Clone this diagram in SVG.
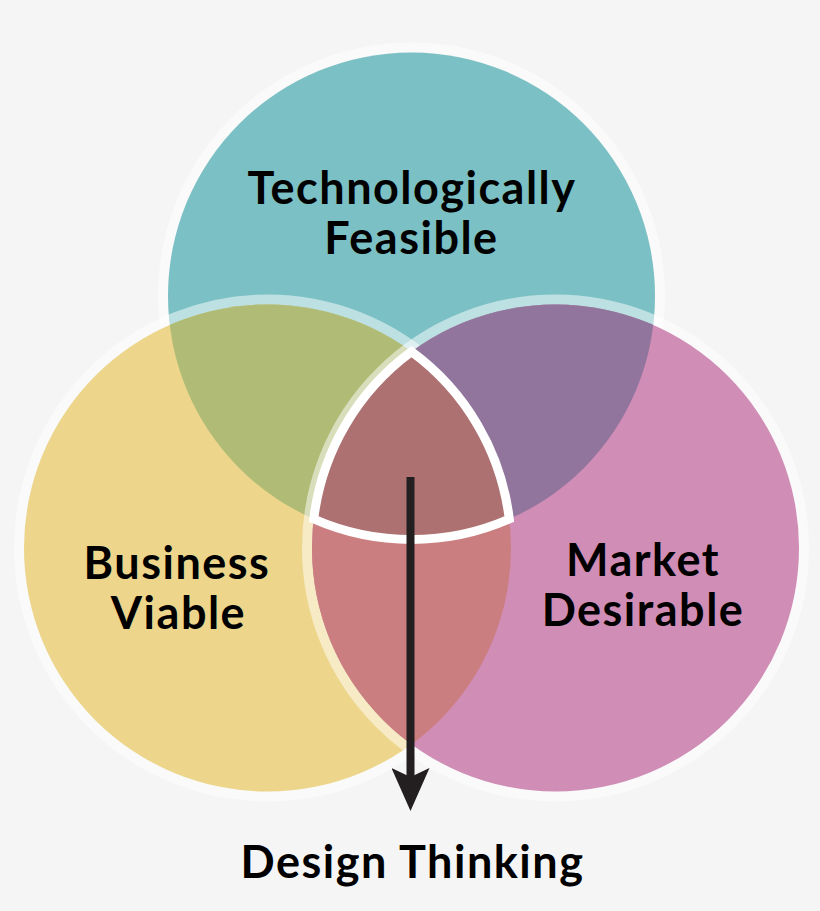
<svg xmlns="http://www.w3.org/2000/svg" width="820" height="911" viewBox="0 0 820 911">
  <defs>
    <style>
      .halo { fill: none; stroke: #ffffff; stroke-opacity: 0.5; stroke-width: 10; }
      .label { font-family: "Lato", "Liberation Sans", sans-serif; font-weight: 700; font-size: 45px; letter-spacing: 1.5px; fill: #000000; text-anchor: middle; }
    </style>
    <clipPath id="clipTeal"><circle cx="411.5" cy="296" r="243.5"/></clipPath>
    <clipPath id="clipYellow"><circle cx="267.5" cy="548" r="243.5"/></clipPath>
    <marker id="arrowhead" markerUnits="userSpaceOnUse" viewBox="0 0 44 38" markerWidth="44" markerHeight="38" refX="12" refY="19" orient="auto">
      <path d="M0,0 L43,19 L0,38 L9,19 Z" fill="#231f20"/>
    </marker>
  </defs>

  <rect x="0" y="0" width="820" height="911" fill="#f5f5f5"/>

  <g id="technologically-feasible">
    <circle class="halo" cx="411.5" cy="296" r="248.5"/>
    <circle cx="411.5" cy="296" r="243.5" fill="#7bc0c4"/>
  </g>

  <g id="business-viable">
    <circle class="halo" cx="267.5" cy="548" r="248.5"/>
    <circle cx="267.5" cy="548" r="243.5" fill="#edd68b"/>
    <circle cx="411.5" cy="296" r="243.5" fill="#b0bc76" clip-path="url(#clipYellow)"/>
  </g>

  <g id="market-desirable">
    <circle class="halo" cx="555.5" cy="548" r="248.5"/>
    <circle cx="555.5" cy="548" r="243.5" fill="#d08db6"/>
    <circle cx="555.5" cy="548" r="243.5" fill="#91759c" clip-path="url(#clipTeal)"/>
    <circle cx="555.5" cy="548" r="243.5" fill="#cb7e7f" clip-path="url(#clipYellow)"/>
  </g>

  <g id="design-thinking-core">
    <path d="M411.5,351.64 A243.5,243.5 0 0 0 313.74,519 A243.5,243.5 0 0 0 509.26,519 A243.5,243.5 0 0 0 411.5,351.64 Z"
          fill="#ad7171" stroke="#ffffff" stroke-width="9" stroke-linejoin="miter" stroke-miterlimit="10"/>
  </g>

  <g id="connectors">
    <line x1="410.5" y1="477" x2="410.5" y2="780" stroke="#231f20" stroke-width="8" marker-end="url(#arrowhead)"/>
  </g>

  <g id="labels">
    <text class="label"><tspan x="412" y="204">Technologically</tspan><tspan x="411.5" y="254">Feasible</tspan></text>
    <text class="label"><tspan x="177" y="578.5">Business</tspan><tspan x="178.5" y="628.5">Viable</tspan></text>
    <text class="label"><tspan x="643" y="576">Market</tspan><tspan x="643" y="626">Desirable</tspan></text>
    <text class="label" x="412.5" y="878">Design Thinking</text>
  </g>
</svg>
